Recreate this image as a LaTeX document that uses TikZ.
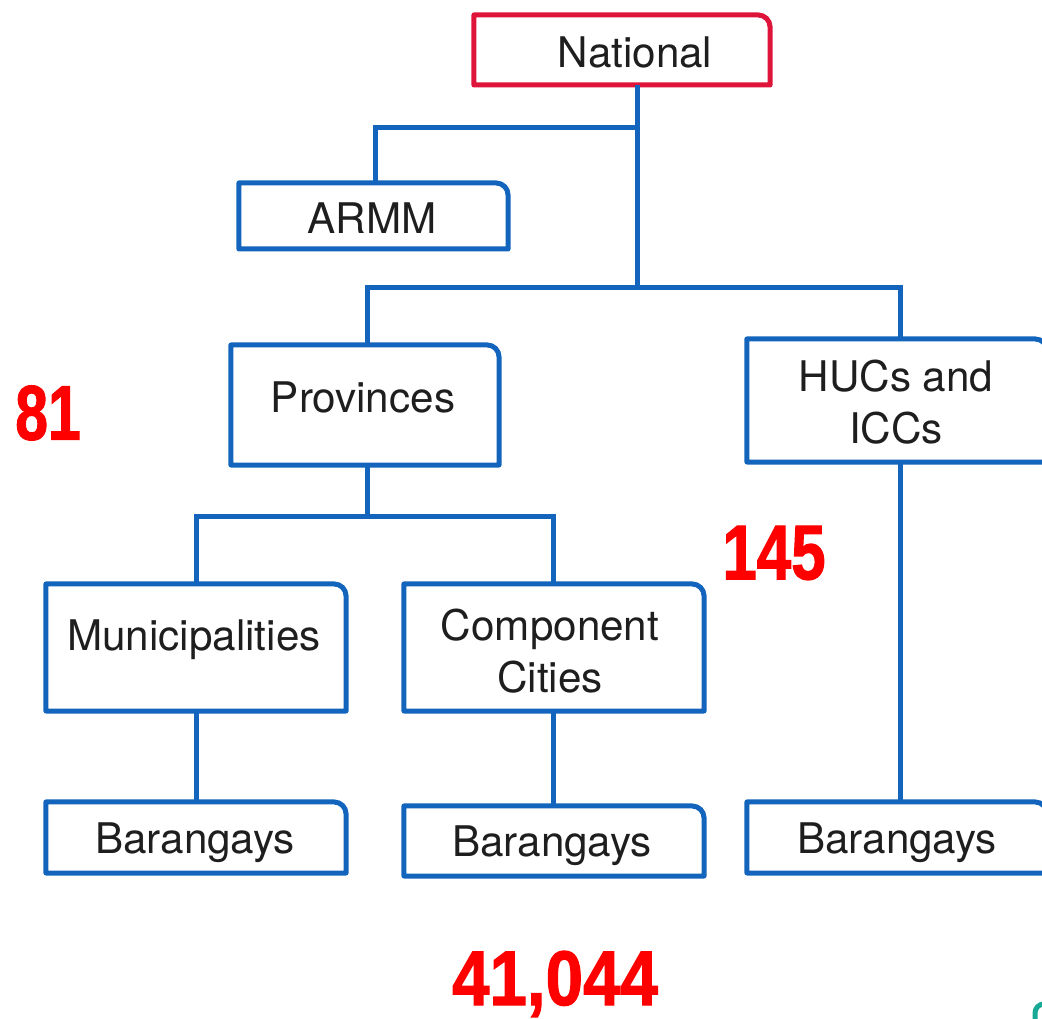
\documentclass[tikz,border=0pt]{standalone}
\usepackage{fontspec}
\setmainfont{TeX Gyre Heros}
\newfontfamily\numfont[BoldFeatures={FakeBold=1.6}]{Liberation Sans}
\definecolor{linkblue}{RGB}{18,100,188}
\definecolor{natred}{RGB}{222,20,58}
\definecolor{countred}{RGB}{255,0,0}
\definecolor{labelgray}{RGB}{30,30,30}
\definecolor{tealmark}{RGB}{24,170,150}
\begin{document}
\begin{tikzpicture}[x=0.01cm,y=0.01cm,
  unit box/.style={draw=none,inner sep=0pt,outer sep=0pt},
  outline/.style={draw=linkblue,line width=0.05cm,line join=round},
  link/.style={draw=linkblue,line width=0.05cm,line join=miter},
  lbl/.style={text=labelgray,font=\fontsize{12}{14.7}\selectfont,align=center,inner sep=0pt},
  count/.style={text=countred,font=\numfont\bfseries\fontsize{22}{22}\selectfont,inner sep=0pt}]
\useasboundingbox (0,0) rectangle (1042,1019);

% box frames (text is placed separately below)
\node[unit box,minimum width=2.96cm,minimum height=0.70cm] (nat)  at (622,969)   {};
\node[unit box,minimum width=2.69cm,minimum height=0.66cm] (armm) at (373.5,803) {};
\node[unit box,minimum width=2.68cm,minimum height=1.20cm] (prov) at (365,614)   {};
\node[unit box,minimum width=3.00cm,minimum height=1.23cm] (huc)  at (897,618.5) {};
\node[unit box,minimum width=3.00cm,minimum height=1.27cm] (muni) at (196,371.5) {};
\node[unit box,minimum width=3.00cm,minimum height=1.27cm] (comp) at (554,371.5) {};
\node[unit box,minimum width=3.00cm,minimum height=0.71cm] (bar1) at (196,181.5) {};
\node[unit box,minimum width=3.00cm,minimum height=0.70cm] (bar2) at (554,178)   {};
\node[unit box,minimum width=3.00cm,minimum height=0.71cm] (bar3) at (897,181.5) {};

% outlines with one rounded corner (top right)
\foreach \b/\c in {nat/natred,armm/linkblue,prov/linkblue,huc/linkblue,muni/linkblue,
                   comp/linkblue,bar1/linkblue,bar2/linkblue,bar3/linkblue}{
  \draw[outline,draw=\c] (\b.south west) -- (\b.north west)
    -- ([xshift=-0.12cm]\b.north east) arc[start angle=90,end angle=0,radius=0.12cm]
    -- (\b.south east) -- cycle;
}

% labels
\node[lbl] (natl)  at (635,967)   {National};
\node[lbl] (armml) at (372,801)   {ARMM};
\node[lbl] (provl) at (363,622)   {Provinces};
\node[lbl] (hucl)  at (896,617)   {HUCs and\\ICCs};
\node[lbl] (munil) at (194,379)   {Municipalities};
\node[lbl] (compl) at (550,368)   {Component\\Cities};
\node[lbl] (bar1l) at (195,176)   {Barangays};
\node[lbl] (bar2l) at (552,173)   {Barangays};
\node[lbl] (bar3l) at (897,176)   {Barangays};

% junction points of the tree
\coordinate (jtop)  at (637,891);
\coordinate (jarmm) at (375,891);
\coordinate (jmid)  at (637,731);
\coordinate (jprov) at (367,731);
\coordinate (jhuc)  at (900,731);
\coordinate (jsub)  at (367,502);
\coordinate (jmuni) at (196,502);
\coordinate (jcomp) at (553,502);

% connectors
\draw[link] (nat.south -| jtop) -- (jmid);
\draw[link] (jtop) -- (jarmm) -- (armm.north -| jarmm);
\draw[link] (prov.north -| jprov) -- (jprov) -- (jhuc) -- (huc.north -| jhuc);
\draw[link] (prov.south -| jsub) -- (jsub);
\draw[link] (muni.north -| jmuni) -- (jmuni) -- (jcomp) -- (comp.north -| jcomp);
\draw[link] (muni.south -| jmuni) -- (bar1.north -| jmuni);
\draw[link] (comp.south -| jcomp) -- (bar2.north -| jcomp);
\draw[link] (huc.south -| jhuc) -- (bar3.north -| jhuc);

% counts
\node[count,xscale=0.76] (n81)  at (48,606)  {81};
\node[count,xscale=0.80] (n145) at (774,466) {145};
\node[count,xscale=0.87] (n41k) at (555,35)  {41,044};

% edge of a further shape in the corner
\draw[tealmark,line width=0.05cm] (1035,-5) -- (1035,6) arc[start angle=180,end angle=90,radius=0.09cm];
\end{tikzpicture}
\end{document}
